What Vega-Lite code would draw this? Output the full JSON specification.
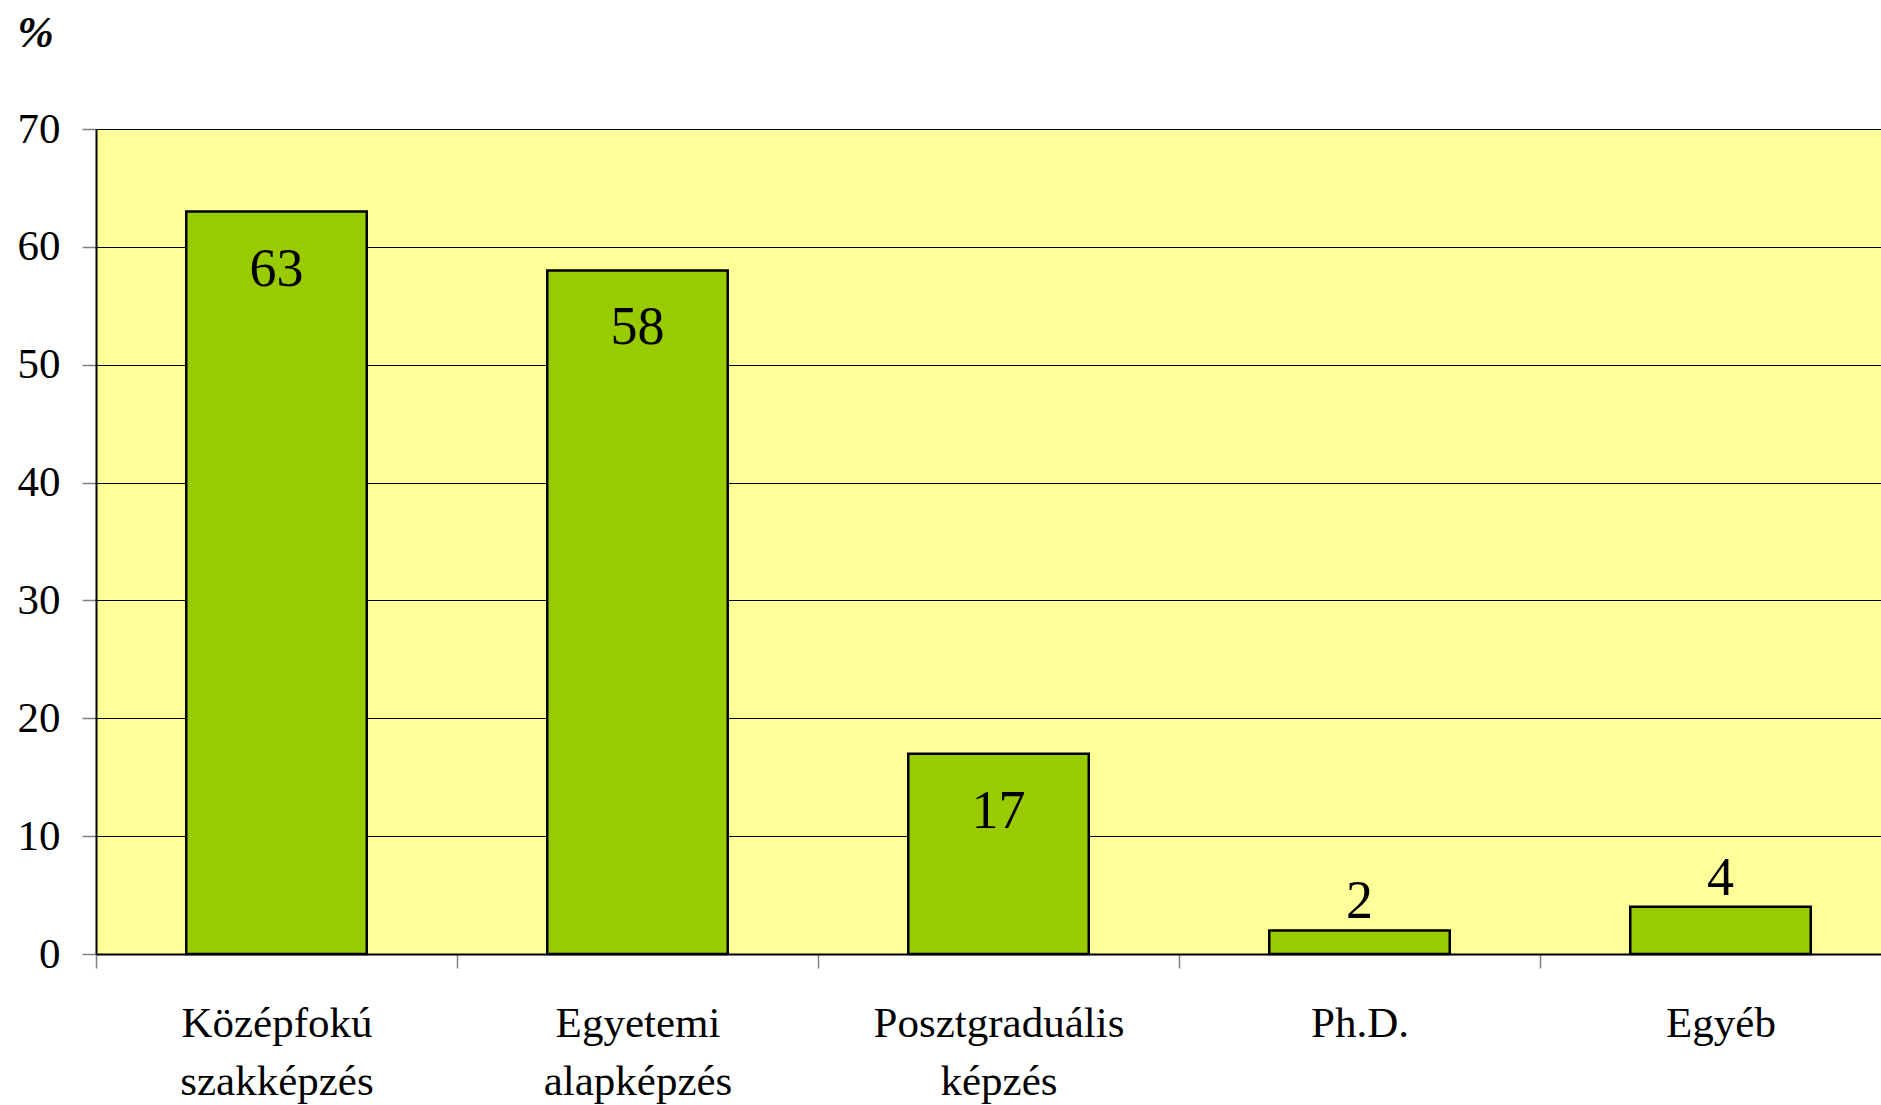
{
  "$schema": "https://vega.github.io/schema/vega-lite/v6.json",
  "autosize": "none",
  "width": 1785,
  "height": 825,
  "padding": {"left": 96, "top": 129, "right": 0, "bottom": 151},
  "background": "white",
  "config": {
    "view": {"fill": "#FFFF99", "stroke": null},
    "font": "Liberation Serif"
  },
  "data": {
    "values": [
      {"kat": "Középfokú szakképzés", "v": 63},
      {"kat": "Egyetemi alapképzés", "v": 58},
      {"kat": "Posztgraduális képzés", "v": 17},
      {"kat": "Ph.D.", "v": 2},
      {"kat": "Egyéb", "v": 4}
    ]
  },
  "encoding": {
    "x": {
      "field": "kat", "type": "nominal", "sort": null,
      "scale": {"range": [0, 1805], "paddingInner": 0, "paddingOuter": 0},
      "axis": {
        "title": null, "labelAngle": 0, "tickBand": "extent",
        "labelExpr": "split(datum.label, ' ')", "labelLimit": 0,
        "labelFont": "Liberation Serif", "labelFontSize": 43, "labelColor": "black",
        "labelLineHeight": 58, "labelPadding": 34, "labelBaseline": "top",
        "tickSize": 14, "tickColor": "#808080", "tickWidth": 1.5,
        "domainColor": "black", "domainWidth": 2, "grid": false
      }
    },
    "y": {
      "field": "v", "type": "quantitative",
      "scale": {"domain": [0, 70], "nice": false},
      "axis": {
        "values": [0, 10, 20, 30, 40, 50, 60, 70],
        "labelFont": "Liberation Serif", "labelFontSize": 43, "labelColor": "black",
        "labelPadding": 22, "labelBaseline": "middle",
        "tickSize": 14, "tickColor": "#808080", "tickWidth": 1.5,
        "domainColor": "black", "domainWidth": 2,
        "grid": true, "gridColor": "#000000", "gridWidth": 1,
        "title": "%", "titleAngle": 0, "titleX": -61, "titleY": -83,
        "titleAlign": "center", "titleBaseline": "alphabetic",
        "titleFont": "Liberation Serif", "titleFontSize": 44,
        "titleFontStyle": "italic", "titleFontWeight": "bold", "titleColor": "black"
      }
    }
  },
  "layer": [
    {
      "mark": {"type": "bar", "color": "#99CC00", "stroke": "black", "strokeWidth": 2.5, "width": {"band": 0.5}}
    },
    {
      "transform": [{"filter": "datum.v >= 10"}],
      "mark": {"type": "text", "baseline": "alphabetic", "dy": 74, "fontSize": 54, "font": "Liberation Serif", "color": "black"},
      "encoding": {"text": {"field": "v", "type": "quantitative"}}
    },
    {
      "transform": [{"filter": "datum.v < 10"}],
      "mark": {"type": "text", "baseline": "alphabetic", "dy": -12, "fontSize": 54, "font": "Liberation Serif", "color": "black"},
      "encoding": {"text": {"field": "v", "type": "quantitative"}}
    }
  ]
}
